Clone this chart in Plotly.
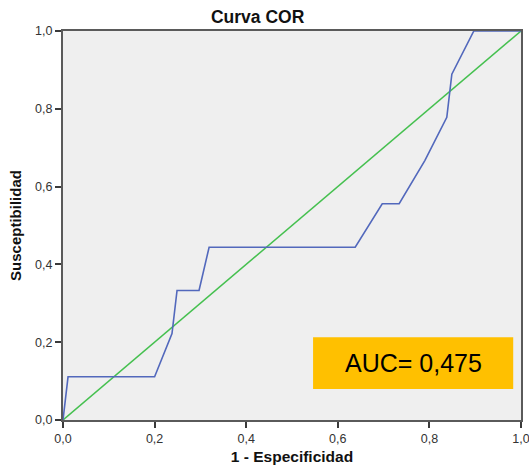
import plotly.graph_objects as go

# ROC curve
fpr = [0, 0.011, 0.2, 0.238, 0.249, 0.297, 0.319, 0.638, 0.697, 0.734, 0.790, 0.838, 0.849, 0.897, 1.0]
tpr = [0, 0.111, 0.111, 0.222, 0.333, 0.333, 0.444, 0.444, 0.556, 0.556, 0.667, 0.778, 0.889, 1.0, 1.0]
ref_x = [0, 1]
ref_y = [0, 1]
tick_vals = [0, 0.2, 0.4, 0.6, 0.8, 1.0]
tick_text = ["0,0", "0,2", "0,4", "0,6", "0,8", "1,0"]
auc_label = "AUC= 0,475"

FONT = "Liberation Sans, Arial, sans-serif"

fig = go.Figure()
fig.add_trace(go.Scatter(x=ref_x, y=ref_y, mode="lines",
                         line=dict(color="#45C04F", width=1.5), showlegend=False, hoverinfo="skip"))
fig.add_trace(go.Scatter(x=fpr, y=tpr, mode="lines",
                         line=dict(color="#5268BC", width=1.6), showlegend=False))

fig.add_shape(type="rect", xref="x", yref="y", x0=0.546, x1=0.983, y0=0.08, y1=0.213,
              fillcolor="#FFC000", line=dict(width=0), layer="above")
fig.add_annotation(x=(0.546 + 0.983) / 2, y=(0.08 + 0.213) / 2, xref="x", yref="y",
                   text=auc_label, showarrow=False,
                   font=dict(family=FONT, size=25, color="#000000"))

axis_common = dict(range=[0, 1], tickvals=tick_vals, ticktext=tick_text, automargin=False,
                   showgrid=False, zeroline=False, showline=True, mirror=True,
                   linecolor="#5A5A5A", linewidth=2, ticks="outside", ticklen=6,
                   tickcolor="#3A3A3A", tickwidth=1.5, ticklabeloverflow="allow",
                   tickfont=dict(family=FONT, size=12.5, color="#333333"))

fig.update_layout(
    width=529, height=466,
    margin=dict(l=63, r=8, t=31, b=46),
    paper_bgcolor="white", plot_bgcolor="#EFEFEF",
    title=dict(text="<b>Curva COR</b>", x=0.487, xanchor="center", xref="container",
               y=1 - 17 / 466, yanchor="middle", yref="container", automargin=False,
               font=dict(family=FONT, size=17.5, color="#111111")),
    xaxis=dict(**axis_common,
               title=dict(text="<b>1 - Especificidad</b>", standoff=6,
                          font=dict(family=FONT, size=15.5, color="#111111"))),
    yaxis=dict(**axis_common,
               title=dict(text="<b>Susceptibilidad</b>", standoff=10,
                          font=dict(family=FONT, size=15, color="#111111"))),
)

fig.write_html("out.html", config={"displayModeBar": False},
               post_script="document.body.style.margin='0';document.body.style.overflow='hidden';")
